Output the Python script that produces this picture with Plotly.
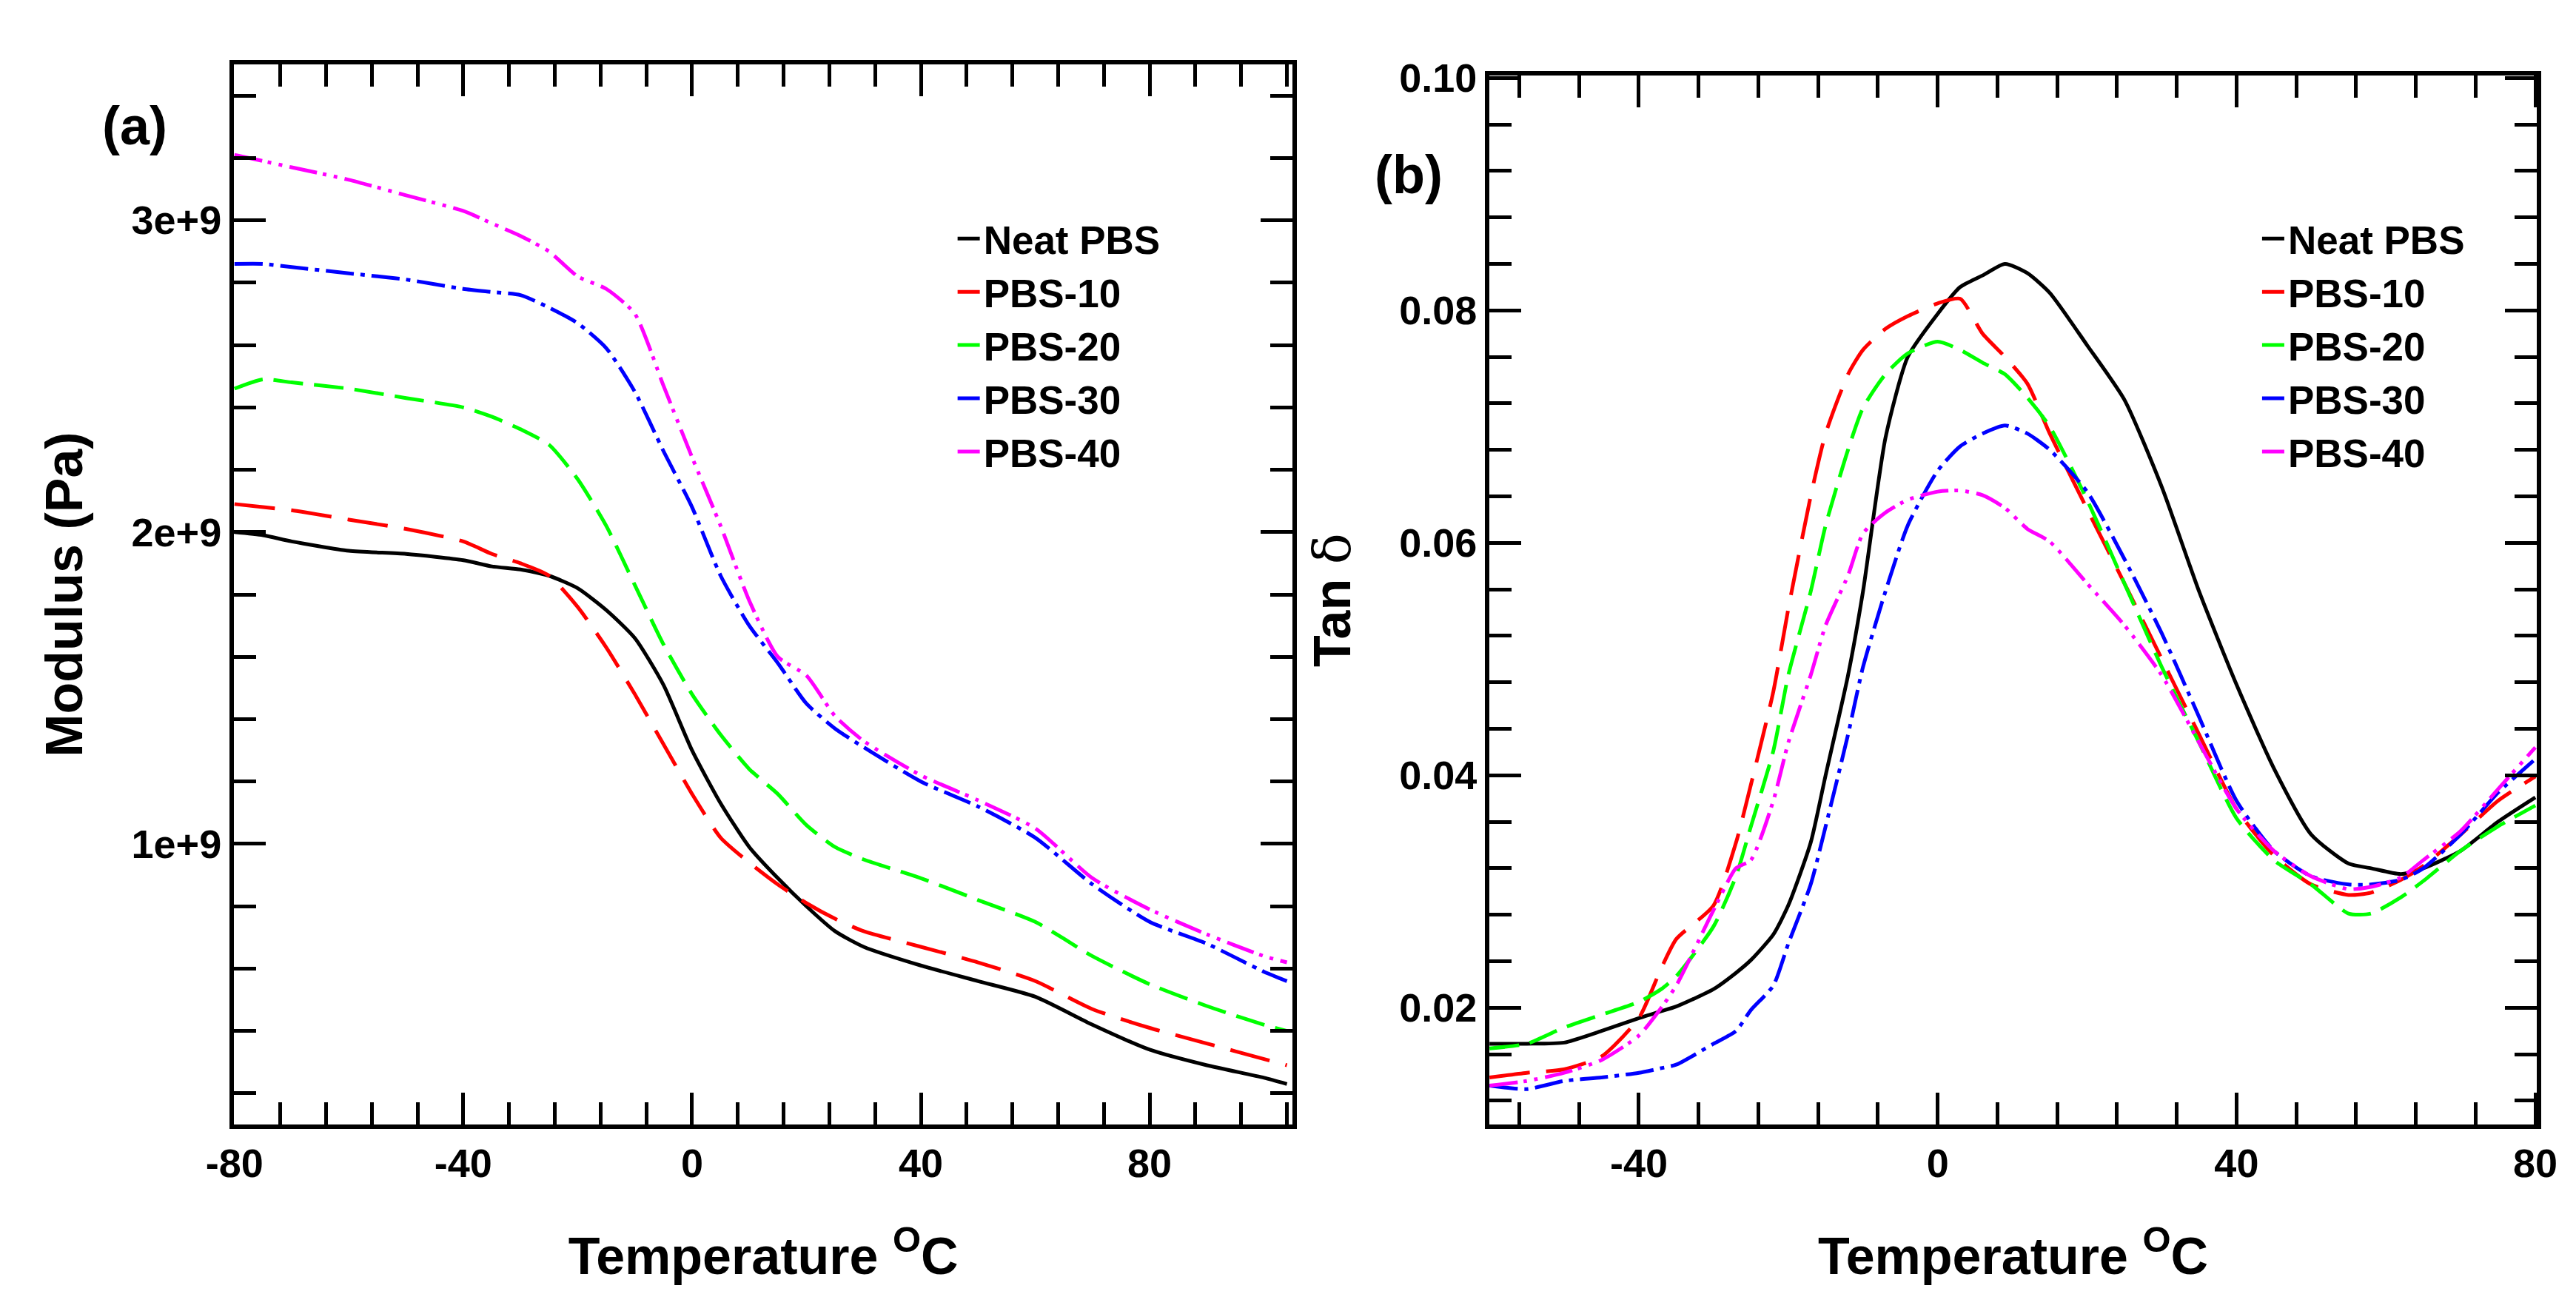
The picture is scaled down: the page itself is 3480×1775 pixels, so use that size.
import plotly.graph_objects as go

# panel (a): storage modulus vs temperature (x 1e9 Pa)
temp_a = [-80, -75, -70, -60, -50, -40, -35, -30, -25, -20, -15, -10, -5, 0, 5, 10,
          15, 20, 25, 30, 40, 50, 60, 70, 80, 90, 100, 104]
mod_neat = [2.00, 1.99, 1.97, 1.94, 1.93, 1.91, 1.89, 1.88, 1.86, 1.82, 1.75, 1.66, 1.51, 1.30,
            1.13, 0.99, 0.89, 0.80, 0.72, 0.67, 0.61, 0.56, 0.51, 0.42, 0.34, 0.29, 0.25, 0.23]
mod_10 = [2.09, 2.08, 2.07, 2.04, 2.01, 1.97, 1.93, 1.90, 1.86, 1.76, 1.63, 1.48, 1.32, 1.16,
          1.02, 0.94, 0.87, 0.81, 0.76, 0.72, 0.67, 0.62, 0.56, 0.47, 0.41, 0.36, 0.31, 0.29]
mod_20 = [2.46, 2.49, 2.48, 2.46, 2.43, 2.40, 2.37, 2.33, 2.28, 2.17, 2.02, 1.83, 1.64, 1.48,
          1.35, 1.24, 1.16, 1.06, 0.99, 0.95, 0.89, 0.82, 0.75, 0.64, 0.55, 0.48, 0.42, 0.40]
mod_30 = [2.86, 2.86, 2.85, 2.83, 2.81, 2.78, 2.77, 2.76, 2.72, 2.67, 2.59, 2.45, 2.26, 2.08,
          1.86, 1.70, 1.58, 1.45, 1.37, 1.31, 1.20, 1.12, 1.02, 0.87, 0.75, 0.68, 0.59, 0.56]
mod_40 = [3.21, 3.19, 3.17, 3.13, 3.08, 3.03, 2.99, 2.95, 2.90, 2.82, 2.78, 2.70, 2.47, 2.24,
          2.02, 1.78, 1.60, 1.54, 1.41, 1.33, 1.22, 1.14, 1.05, 0.89, 0.79, 0.71, 0.64, 0.62]

# panel (b): tan delta vs temperature
temp_b = [-60, -55, -50, -45, -40, -37, -35, -30, -27, -25, -22, -20, -17, -15, -12, -10,
          -7, -4, 0, 3, 6, 9, 12, 15, 20, 25, 30, 35, 40, 45, 50, 55, 58, 62, 65, 70, 75, 80]
tan_neat = [0.0169, 0.0169, 0.0170, 0.0180, 0.0191, 0.0197, 0.0201, 0.0216, 0.0230, 0.0241,
            0.0263, 0.0288, 0.0342, 0.0400, 0.0486, 0.0558, 0.0690, 0.0760, 0.0797, 0.0820,
            0.0830, 0.0840, 0.0832, 0.0815, 0.0770, 0.0723, 0.0648, 0.0558, 0.0478, 0.0406,
            0.0349, 0.0324, 0.0320, 0.0315, 0.0320, 0.0335, 0.0360, 0.0381]
tan_10 = [0.0140, 0.0144, 0.0147, 0.0158, 0.0191, 0.0234, 0.0259, 0.0288, 0.0342, 0.0392,
          0.0472, 0.0543, 0.0640, 0.0694, 0.0745, 0.0766, 0.0784, 0.0795, 0.0806, 0.0810,
          0.0780, 0.0760, 0.0737, 0.0694, 0.0629, 0.0565, 0.0500, 0.0435, 0.0371, 0.0331,
          0.0306, 0.0297, 0.0299, 0.0310, 0.0322, 0.0349, 0.0378, 0.0399]
tan_20 = [0.0165, 0.0169, 0.0183, 0.0194, 0.0205, 0.0216, 0.0227, 0.0270, 0.0313, 0.0356,
          0.0421, 0.0486, 0.0558, 0.0615, 0.0680, 0.0716, 0.0745, 0.0763, 0.0773, 0.0766,
          0.0755, 0.0745, 0.0725, 0.0700, 0.0637, 0.0565, 0.0493, 0.0428, 0.0363, 0.0327,
          0.0306, 0.0281, 0.0281, 0.0295, 0.0309, 0.0335, 0.0356, 0.0374]
tan_30 = [0.0133, 0.0130, 0.0137, 0.0140, 0.0144, 0.0148, 0.0151, 0.0169, 0.0180, 0.0198,
          0.0219, 0.0255, 0.0306, 0.0356, 0.0435, 0.0493, 0.0558, 0.0615, 0.0662, 0.0683,
          0.0694, 0.0701, 0.0694, 0.0680, 0.0644, 0.0586, 0.0522, 0.0450, 0.0378, 0.0335,
          0.0313, 0.0306, 0.0306, 0.0310, 0.0320, 0.0349, 0.0385, 0.0414]
tan_40 = [0.0133, 0.0137, 0.0144, 0.0155, 0.0176, 0.0200, 0.0219, 0.0284, 0.0320, 0.0327,
          0.0378, 0.0428, 0.0486, 0.0529, 0.0572, 0.0608, 0.0626, 0.0637, 0.0644, 0.0645,
          0.0641, 0.0630, 0.0612, 0.0601, 0.0565, 0.0529, 0.0486, 0.0428, 0.0371, 0.0335,
          0.0313, 0.0302, 0.0304, 0.0312, 0.0327, 0.0352, 0.0388, 0.0424]

names = ['Neat PBS', 'PBS-10', 'PBS-20', 'PBS-30', 'PBS-40']
colors = ['#000000', '#FF0000', '#00FF00', '#0000FF', '#FF00FF']
dashes = ['solid', '55px,22px', '40px,15px', '38px,9px,6px,9px', '38px,8px,5px,10px,5px,10px']

# tick labels (plain hyphen, like the original)
xa_ticks = [-80, -40, 0, 40, 80]
xa_labels = ['-80', '-40', '0', '40', '80']
xb_ticks = [-40, 0, 40, 80]
xb_labels = ['-40', '0', '40', '80']

mod_series = [mod_neat, mod_10, mod_20, mod_30, mod_40]
tan_series = [tan_neat, tan_10, tan_20, tan_30, tan_40]

FONT = 'Liberation Sans'

fig = go.Figure()

for name, col, dash, vals in zip(names, colors, dashes, mod_series):
    fig.add_trace(go.Scatter(
        x=temp_a, y=[v * 1e9 for v in vals], mode='lines', name=name,
        line=dict(color=col, width=5, dash=dash, shape='spline', smoothing=0.6),
        xaxis='x', yaxis='y', legend='legend'
    ))

for name, col, dash, vals in zip(names, colors, dashes, tan_series):
    fig.add_trace(go.Scatter(
        x=temp_b, y=vals, mode='lines', name=name,
        line=dict(color=col, width=5, dash=dash, shape='spline', smoothing=0.6),
        xaxis='x2', yaxis='y2', legend='legend2'
    ))

tickfont = dict(family=FONT, size=54, color='black', weight='bold')
titlefont = dict(family=FONT, size=70, color='black', weight='bold')
legfont = dict(family=FONT, size=53, color='black', weight='bold')
minor = dict(tickmode='linear', tick0=0, ticks='inside', ticklen=30, tickwidth=5, tickcolor='black')

common = dict(
    showline=True, linecolor='black', linewidth=6, mirror='ticks',
    ticks='inside', ticklen=43, tickwidth=5, tickcolor='black',
    showgrid=False, zeroline=False, tickfont=tickfont, automargin=False,
)

fig.update_layout(
    width=3480, height=1775,
    margin=dict(l=0, r=0, t=0, b=0, autoexpand=False),
    paper_bgcolor='white', plot_bgcolor='white',
    xaxis=dict(domain=[0.0885, 0.4995], range=[-80.1, 105], tickmode='array',
               tickvals=xa_ticks, ticktext=xa_labels, minor=dict(dtick=8, **minor),
               title=dict(text='Temperature <sup>O</sup>C', font=titlefont, standoff=74),
               anchor='y', **common),
    yaxis=dict(domain=[0.1487, 0.9555], range=[0.1e9, 3.5e9], tick0=0, dtick=1e9, tickformat='.0e',
               minor=dict(dtick=2e8, **minor),
               title=dict(text='Modulus (Pa)', font=titlefont, standoff=45),
               anchor='x', **common),
    xaxis2=dict(domain=[0.5759, 0.9825], range=[-60, 80.2], tickmode='array',
                tickvals=xb_ticks, ticktext=xb_labels, minor=dict(dtick=8, **minor),
                title=dict(text='Temperature <sup>O</sup>C', font=titlefont, standoff=74),
                anchor='y2', **common),
    yaxis2=dict(domain=[0.1487, 0.947], range=[0.00995, 0.1002], tick0=0, dtick=0.02, tickformat='.2f',
                minor=dict(dtick=0.004, **minor),
                title=dict(text="Tan <span style='font-weight:normal;font-family:DejaVu Serif'>δ</span>",
                           font=titlefont, standoff=45),
                anchor='x2', **common),
    legend=dict(x=0.368, y=0.846, xanchor='left', yanchor='top', font=legfont,
                bgcolor='rgba(0,0,0,0)', itemwidth=30),
    legend2=dict(x=0.8744, y=0.846, xanchor='left', yanchor='top', font=legfont,
                 bgcolor='rgba(0,0,0,0)', itemwidth=30),
    showlegend=True,
)

fig.add_annotation(text='(a)', x=174 / 3480, y=1 - 162 / 1775, xref='paper', yref='paper',
                   xanchor='center', yanchor='middle', showarrow=False,
                   font=dict(family=FONT, size=72, color='black', weight='bold'))
fig.add_annotation(text='(b)', x=1895 / 3480, y=1 - 228 / 1775, xref='paper', yref='paper',
                   xanchor='center', yanchor='middle', showarrow=False,
                   font=dict(family=FONT, size=72, color='black', weight='bold'))

fig.write_html('out.html')
